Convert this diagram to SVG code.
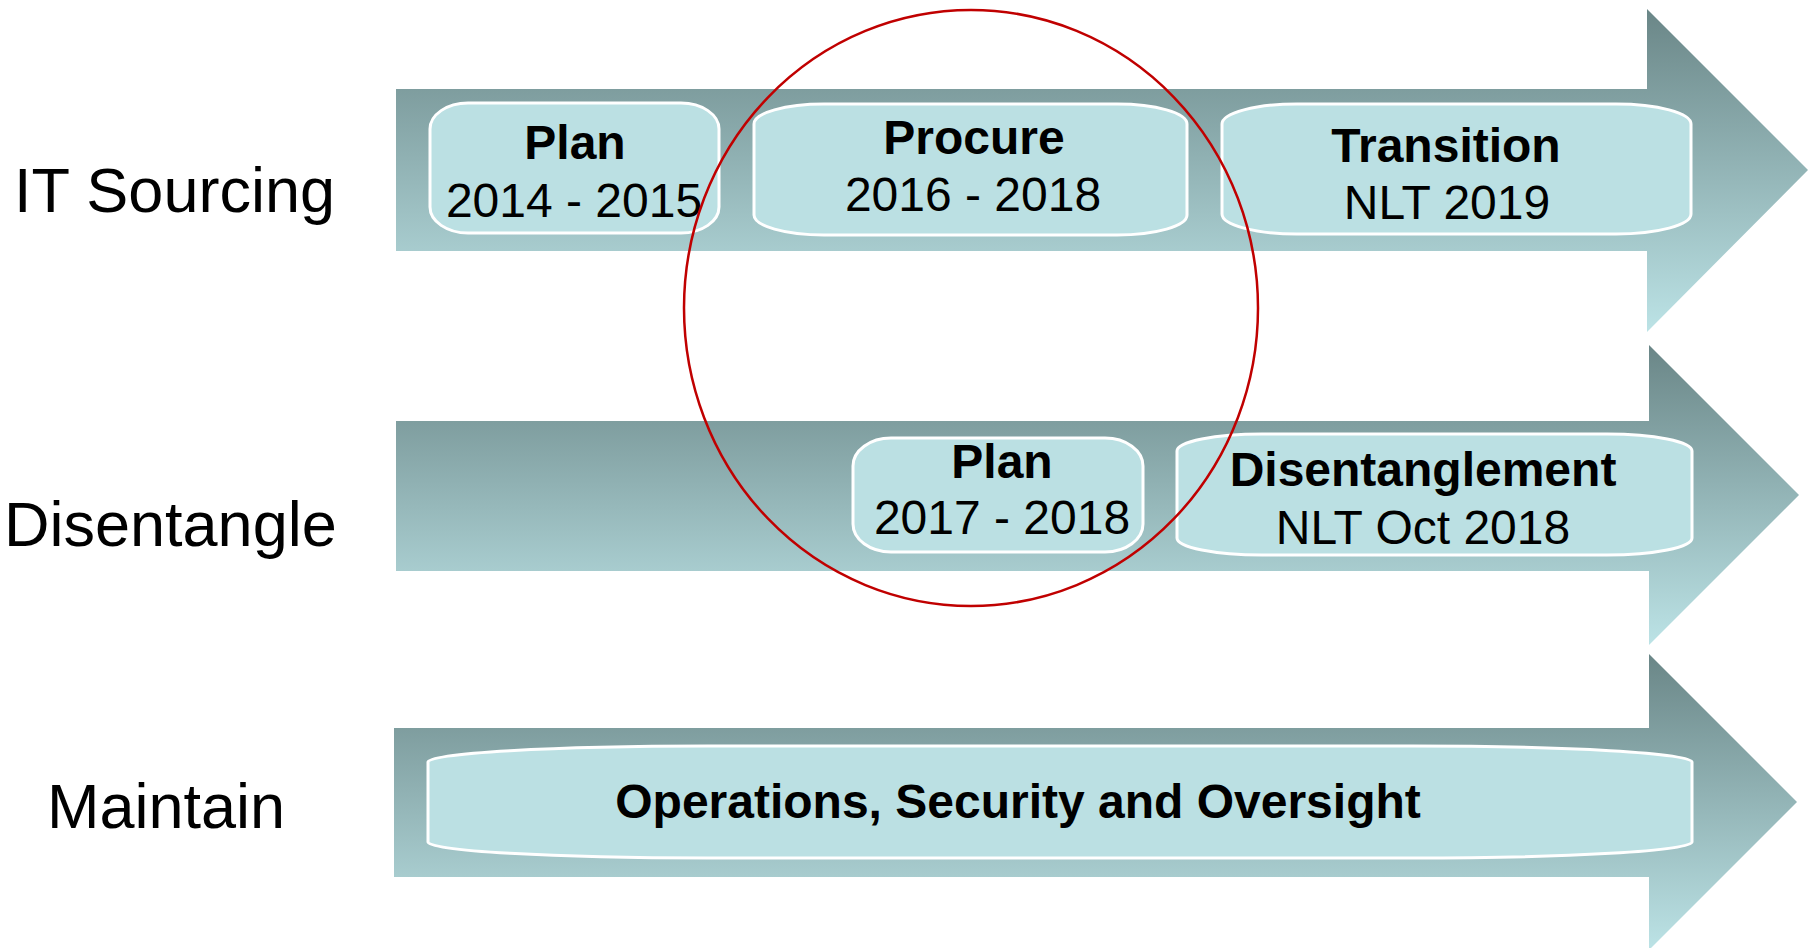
<svg xmlns="http://www.w3.org/2000/svg" width="1814" height="948" viewBox="0 0 1814 948">
<defs>
<linearGradient id="arrowGrad" x1="0" y1="0" x2="0" y2="1">
<stop offset="0" stop-color="#6A8687"/>
<stop offset="1" stop-color="#BCE3E6"/>
</linearGradient>
<style>
.arrow{fill:url(#arrowGrad);}
.box{fill:#BBE0E3;stroke:#FFFFFF;stroke-width:3;}
.lbl{font-family:"Liberation Sans",Arial,sans-serif;font-size:63px;fill:#000;}
.t{font-family:"Liberation Sans",Arial,sans-serif;font-size:48px;fill:#000;text-anchor:middle;}
.b{font-weight:bold;}
.ring{fill:none;stroke:#C00000;stroke-width:2.5;}
</style>
</defs>
<rect width="1814" height="948" fill="#FFFFFF"/>

<g id="arrow-it-sourcing">
<path class="arrow" d="M396,89 H1647 V9 L1808,170 L1647,332 V251 H396 Z"/>
</g>
<g id="arrow-disentangle">
<path class="arrow" d="M396,421 H1649 V345 L1799,495 L1649,645 V571 H396 Z"/>
</g>
<g id="arrow-maintain">
<path class="arrow" d="M394,728 H1649 V654 L1797,802 L1649,950 V877 H394 Z"/>
</g>

<g id="label-it-sourcing"><text class="lbl" x="14" y="212">IT Sourcing</text></g>
<g id="label-disentangle"><text class="lbl" x="4" y="546">Disentangle</text></g>
<g id="label-maintain"><text class="lbl" x="47" y="828">Maintain</text></g>

<g id="node-plan-1">
<rect class="box" x="430" y="103" width="289" height="130" rx="38" ry="26"/>
<text class="t b" x="575" y="159">Plan</text>
<text class="t" x="574" y="217">2014 - 2015</text>
</g>
<g id="node-procure">
<rect class="box" x="754" y="104" width="433" height="131" rx="70" ry="20"/>
<text class="t b" x="974" y="154">Procure</text>
<text class="t" x="973" y="211">2016 - 2018</text>
</g>
<g id="node-transition">
<rect class="box" x="1222" y="104" width="469" height="130" rx="75" ry="20"/>
<text class="t b" x="1446" y="162">Transition</text>
<text class="t" x="1447" y="219">NLT 2019</text>
</g>
<g id="node-plan-2">
<rect class="box" x="853" y="438" width="290" height="114" rx="38" ry="28"/>
<text class="t b" x="1002" y="478">Plan</text>
<text class="t" x="1002" y="534">2017 - 2018</text>
</g>
<g id="node-disentanglement">
<rect class="box" x="1177" y="434" width="515" height="121" rx="85" ry="17"/>
<text class="t b" x="1423" y="486">Disentanglement</text>
<text class="t" x="1423" y="544">NLT Oct 2018</text>
</g>
<g id="node-operations">
<rect class="box" x="428" y="746" width="1264" height="112" rx="280" ry="16"/>
<text class="t b" x="1018" y="818">Operations, Security and Oversight</text>
</g>

<g id="highlight-circle">
<ellipse class="ring" cx="971" cy="308" rx="287" ry="298"/>
</g>
</svg>
